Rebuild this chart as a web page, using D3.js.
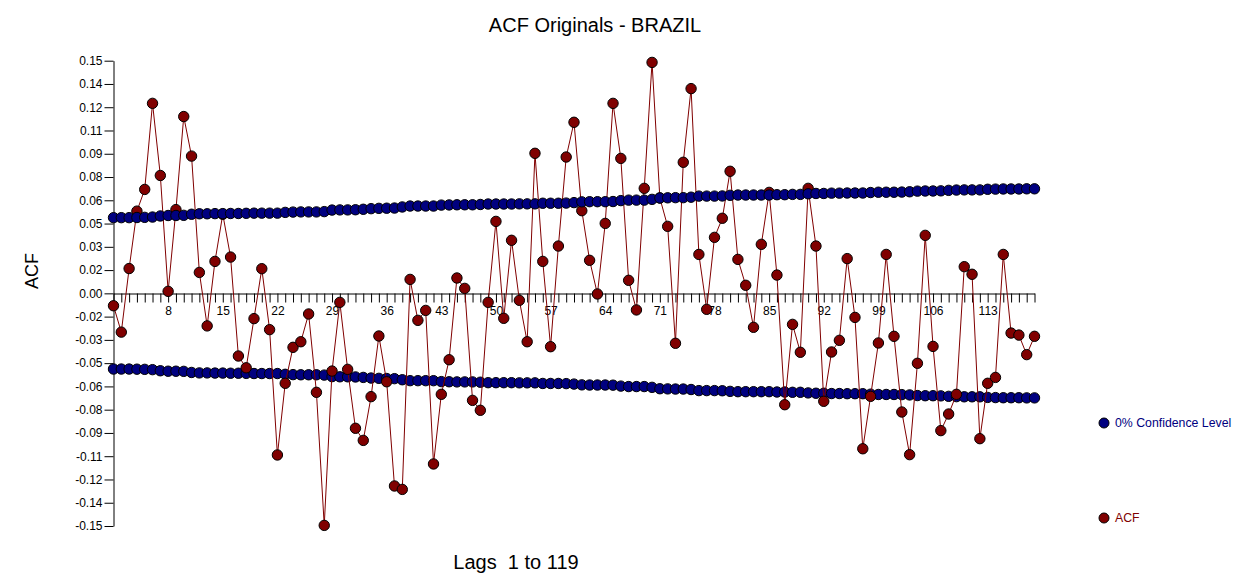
<!DOCTYPE html>
<html>
<head>
<meta charset="utf-8">
<script src="https://cdn.jsdelivr.net/npm/d3@7"></script>
<style>
  html, body { margin: 0; padding: 0; background: #fff; }
  svg { display: block; font-family: "Liberation Sans", Arial, sans-serif; }
</style>
</head>
<body>
<svg id="chart" width="1254" height="588"></svg>
<script>
// ---- data ----
const lags = d3.range(1, 120);
const acf = [
  -0.008, -0.025, 0.016, 0.053, 0.067, 0.1225, 0.076, 0.0013, 0.054, 0.114,
  0.0885, 0.0135, -0.021, 0.0206, 0.051, 0.0234, -0.0404, -0.048, -0.0163, 0.0159,
  -0.0234, -0.1042, -0.058, -0.0348, -0.0312, -0.0133, -0.0638, -0.1496, -0.0501, -0.0058,
  -0.049, -0.087, -0.0948, -0.0666, -0.0275, -0.057, -0.1242, -0.1264, 0.009, -0.0174,
  -0.011, -0.110, -0.0651, -0.0428, 0.0099, 0.0032, -0.069, -0.0754, -0.0058, 0.0464,
  -0.0161, 0.0342, -0.0045, -0.0312, 0.0903, 0.0206, -0.0344, 0.0305, 0.0879, 0.1103,
  0.0533, 0.0213, -0.0004, 0.0451, 0.1225, 0.087, 0.0084, -0.0107, 0.0677, 0.1489,
  0.0615, 0.0432, -0.0322, 0.0845, 0.132, 0.0251, -0.0103, 0.0361, 0.0484, 0.0787,
  0.0219, 0.0052, -0.0219, 0.0316, 0.0651, 0.0118, -0.0718, -0.02, -0.038, 0.0677,
  0.0305, -0.0696, -0.0378, -0.0303, 0.0224, -0.0155, -0.1002, -0.0664, -0.032, 0.0251,
  -0.0277, -0.0765, -0.104, -0.0451, 0.0374, -0.0342, -0.0885, -0.0778, -0.0651, 0.0172,
  0.0123, -0.0937, -0.058, -0.0542, 0.0251, -0.0256, -0.0269, -0.0395, -0.0277
];
const upperBand = [
  0.0488, 0.0488, 0.0488, 0.0489, 0.0490, 0.0492, 0.0499, 0.0502, 0.0502, 0.0503,
  0.0510, 0.0513, 0.0513, 0.0514, 0.0514, 0.0515, 0.0515, 0.0516, 0.0517, 0.0517,
  0.0517, 0.0517, 0.0522, 0.0524, 0.0525, 0.0525, 0.0525, 0.0527, 0.0537, 0.0538,
  0.0538, 0.0539, 0.0542, 0.0546, 0.0548, 0.0549, 0.0550, 0.0557, 0.0563, 0.0563,
  0.0563, 0.0563, 0.0569, 0.0570, 0.0571, 0.0571, 0.0571, 0.0573, 0.0576, 0.0576,
  0.0576, 0.0576, 0.0577, 0.0577, 0.0577, 0.0581, 0.0581, 0.0581, 0.0582, 0.0585,
  0.0590, 0.0591, 0.0591, 0.0591, 0.0592, 0.0598, 0.0601, 0.0601, 0.0601, 0.0606,
  0.0615, 0.0616, 0.0617, 0.0617, 0.0620, 0.0627, 0.0627, 0.0627, 0.0628, 0.0632,
  0.0634, 0.0634, 0.0634, 0.0634, 0.0634, 0.0636, 0.0636, 0.0638, 0.0638, 0.0642,
  0.0644, 0.0644, 0.0646, 0.0646, 0.0647, 0.0647, 0.0647, 0.0650, 0.0652, 0.0652,
  0.0652, 0.0653, 0.0655, 0.0659, 0.0660, 0.0660, 0.0661, 0.0664, 0.0666, 0.0667,
  0.0667, 0.0667, 0.0671, 0.0672, 0.0673, 0.0673, 0.0673, 0.0674, 0.0674
];
const lowerBand = [
  -0.0488, -0.0488, -0.0488, -0.0489, -0.0490, -0.0492, -0.0499, -0.0502, -0.0502, -0.0503,
  -0.0510, -0.0513, -0.0513, -0.0514, -0.0514, -0.0515, -0.0515, -0.0516, -0.0517, -0.0517,
  -0.0517, -0.0517, -0.0522, -0.0524, -0.0525, -0.0525, -0.0525, -0.0527, -0.0537, -0.0538,
  -0.0538, -0.0539, -0.0542, -0.0546, -0.0548, -0.0549, -0.0550, -0.0557, -0.0563, -0.0563,
  -0.0563, -0.0563, -0.0569, -0.0570, -0.0571, -0.0571, -0.0571, -0.0573, -0.0576, -0.0576,
  -0.0576, -0.0576, -0.0577, -0.0577, -0.0577, -0.0581, -0.0581, -0.0581, -0.0582, -0.0585,
  -0.0590, -0.0591, -0.0591, -0.0591, -0.0592, -0.0598, -0.0601, -0.0601, -0.0601, -0.0606,
  -0.0615, -0.0616, -0.0617, -0.0617, -0.0620, -0.0627, -0.0627, -0.0627, -0.0628, -0.0632,
  -0.0634, -0.0634, -0.0634, -0.0634, -0.0634, -0.0636, -0.0636, -0.0638, -0.0638, -0.0642,
  -0.0644, -0.0644, -0.0646, -0.0646, -0.0647, -0.0647, -0.0647, -0.0650, -0.0652, -0.0652,
  -0.0652, -0.0653, -0.0655, -0.0659, -0.0660, -0.0660, -0.0661, -0.0664, -0.0666, -0.0667,
  -0.0667, -0.0667, -0.0671, -0.0672, -0.0673, -0.0673, -0.0673, -0.0674, -0.0674
];
const yTickValues = [0.15, 0.135, 0.12, 0.105, 0.09, 0.075, 0.06, 0.045, 0.03, 0.015, 0,
  -0.015, -0.03, -0.045, -0.06, -0.075, -0.09, -0.105, -0.12, -0.135, -0.15];
const yTickLabels = ["0.15", "0.14", "0.12", "0.11", "0.09", "0.08", "0.06", "0.05", "0.03", "0.02", "0.00",
  "-0.02", "-0.03", "-0.05", "-0.06", "-0.08", "-0.09", "-0.11", "-0.12", "-0.14", "-0.15"];
const xTickLabels = [8, 15, 22, 29, 36, 43, 50, 57, 64, 71, 78, 85, 92, 99, 106, 113];
const legendLabels = ["0% Confidence Level", "ACF"];

// ---- layout ----
const svg = d3.select("#chart");
const x = d3.scaleLinear().domain([1, 119]).range([113.5, 1034.5]);
const y = d3.scaleLinear().domain([-0.15, 0.15]).range([526, 60.7]);
const maroon = "#800000", navy = "#000080";
const R = 5.2;

// title & axis titles
svg.append("text").attr("x", 595).attr("y", 32).attr("text-anchor", "middle")
  .attr("font-size", 20).attr("fill", "#000").text("ACF Originals - BRAZIL");
svg.append("text").attr("transform", "translate(38,271) rotate(-90)").attr("text-anchor", "middle")
  .attr("font-size", 18).attr("fill", "#000").text("ACF");
svg.append("text").attr("x", 516).attr("y", 569).attr("text-anchor", "middle")
  .attr("font-size", 20).attr("fill", "#000").style("white-space", "pre").text("Lags  1 to 119");

// y axis
const yAxis = svg.append("g").attr("transform", "translate(113.5,0)")
  .call(d3.axisLeft(y).tickValues(yTickValues).tickFormat((d, i) => yTickLabels[i])
    .tickSize(9).tickSizeOuter(0).tickPadding(2));
yAxis.selectAll("text").attr("font-size", 12).attr("fill", "#000").style("font-family", '"Liberation Sans", Arial, sans-serif');
yAxis.selectAll("line,path").attr("stroke", "#000");

// x axis at zero
const xAxis = svg.append("g").attr("transform", `translate(0,${Math.round(y(0)) + 0.5})`)
  .call(d3.axisBottom(x).tickValues(lags).tickFormat(d => xTickLabels.includes(d) ? String(d) : "")
    .tickSize(9).tickSizeOuter(0).tickPadding(4));
xAxis.selectAll("text").attr("font-size", 12).attr("fill", "#000").style("font-family", '"Liberation Sans", Arial, sans-serif');
xAxis.selectAll("line,path").attr("stroke", "#000");

// lower band
svg.append("g").selectAll("circle").data(lags).join("circle")
  .attr("cx", d => x(d)).attr("cy", (d, i) => y(lowerBand[i])).attr("r", R)
  .attr("fill", navy).attr("stroke", "#000").attr("stroke-width", 1);

// ACF line & points
const line = d3.line().x((d, i) => x(lags[i])).y(d => y(d));
svg.append("path").datum(acf).attr("d", line).attr("fill", "none")
  .attr("stroke", maroon).attr("stroke-width", 1);
svg.append("g").selectAll("circle").data(acf).join("circle")
  .attr("cx", (d, i) => x(lags[i])).attr("cy", d => y(d)).attr("r", R)
  .attr("fill", maroon).attr("stroke", "#000").attr("stroke-width", 1);

// upper band
svg.append("g").selectAll("circle").data(lags).join("circle")
  .attr("cx", d => x(d)).attr("cy", (d, i) => y(upperBand[i])).attr("r", R)
  .attr("fill", navy).attr("stroke", "#000").attr("stroke-width", 1);

// legend
const legend = [
  { label: legendLabels[0], color: navy, y: 423 },
  { label: legendLabels[1], color: maroon, y: 518 }
];
const lg = svg.append("g").selectAll("g").data(legend).join("g")
  .attr("transform", d => `translate(1104,${d.y})`);
lg.append("circle").attr("r", 5).attr("fill", d => d.color).attr("stroke", "#000");
lg.append("text").attr("x", 11).attr("dy", "0.35em").attr("font-size", 12.3)
  .attr("fill", d => d.color).text(d => d.label);
</script>
</body>
</html>
